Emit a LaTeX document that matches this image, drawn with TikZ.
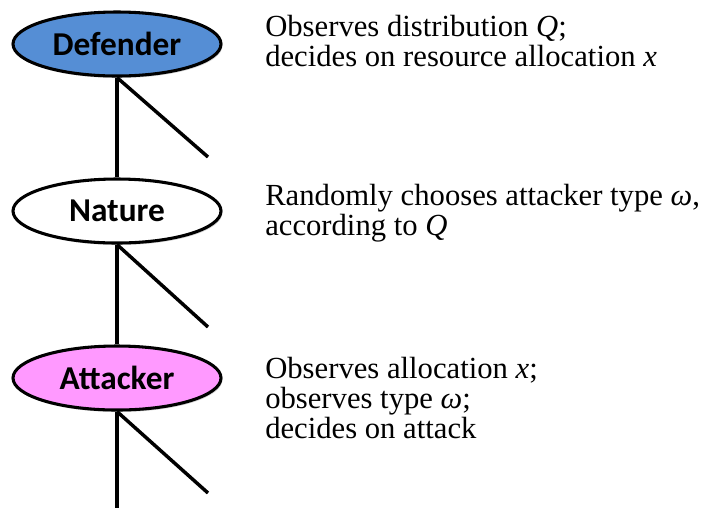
\documentclass[tikz,border=0pt]{standalone}
\usepackage{fontspec}
\setmainfont{Liberation Serif}
\newfontfamily\playerfont{Carlito}
\usetikzlibrary{positioning,shapes.geometric,shadows}
\definecolor{defblue}{HTML}{558ED5}
\definecolor{attpink}{HTML}{FF99FF}
\tikzset{
  player/.style={ellipse, draw, line width=2.3pt, minimum width=156pt, minimum height=48pt,
    inner sep=0pt, font=\playerfont\bfseries\fontsize{25}{25}\selectfont,
    drop shadow={shadow xshift=1pt, shadow yshift=-1.5pt, opacity=0.35}},
  move/.style={line width=2.6pt},
  note/.style={anchor=north west, align=left, inner sep=0pt, font=\fontsize{23}{22.5}\selectfont}
}

\begin{document}
\begin{tikzpicture}[x=0.75pt, y=-0.75pt]
  \useasboundingbox (0,0) rectangle (712,508);

  % the three movers
  \node[player, fill=defblue] (def) at (117,44) {Defender};
  \node[player, fill=white] (nat) at (117,211) {Nature};
  \node[player, fill=attpink] (att) at (117,378) {Attacker};

  % free ends of the branches
  \coordinate (defbr) at (208,157);
  \coordinate (natbr) at (208,327);
  \coordinate (attbr) at (208,493);
  \coordinate (attdown) at (117,508);

  \draw[move] (def.south) -- (nat.north);
  \draw[move] (def.south) -- (defbr);
  \draw[move] (nat.south) -- (att.north);
  \draw[move] (nat.south) -- (natbr);
  \draw[move] (att.south) -- (attdown);
  \draw[move] (att.south) -- (attbr);

  % what each one does
  \node[note] (defnote) at (265,15) {Observes distribution \textit{Q};\\decides on resource allocation \textit{x}};
  \node[note] (natnote) at (265,184) {Randomly chooses attacker type \textit{ω},\\according to \textit{Q}};
  \node[note] (attnote) at (265,357) {Observes allocation \textit{x};\\observes type \textit{ω};\\decides on attack};
\end{tikzpicture}
\end{document}
